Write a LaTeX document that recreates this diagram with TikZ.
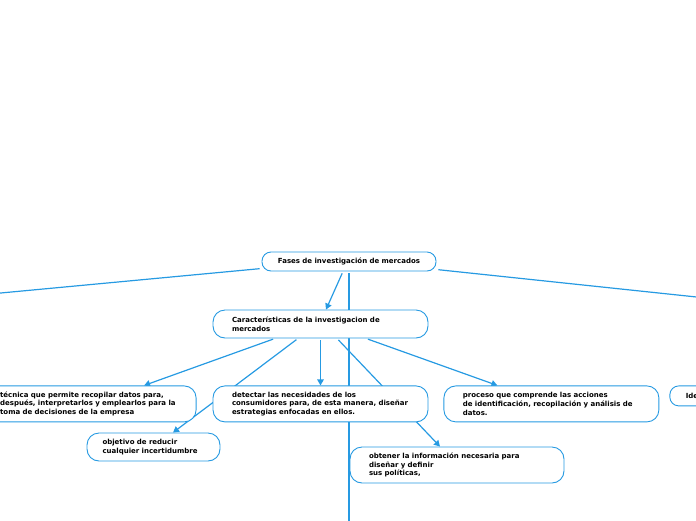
\documentclass[tikz,border=0pt]{standalone}
\usepackage{fontspec}
\setmainfont{DejaVu Sans}
\usetikzlibrary{positioning,arrows.meta,backgrounds}
\definecolor{azul}{RGB}{38,154,226}

\begin{document}
\begin{tikzpicture}[
  x=1pt, y=-1pt,
  font=\fontsize{7}{8.6}\selectfont\bfseries,
  caixa/.style={draw=azul, line width=0.9pt, rounded corners=12pt, fill=white,
                align=left, text width=177pt, inner xsep=19pt, inner ysep=3pt,
                minimum height=28pt},
  raiz/.style={caixa, align=center, text width=146pt, inner xsep=14pt,
               rounded corners=9pt, minimum height=19pt},
  seta/.style={-{Triangle[length=6pt, width=6.5pt]}, draw=azul, line width=1.2pt,
               shorten <=2pt},
  linha/.style={draw=azul, line width=1.2pt, shorten <=2pt},
  node distance=47pt and 15pt
]
  \useasboundingbox (0,0) rectangle (696,520);

  % Raiz
  \node[raiz] (fases) at (349,261.5) {Fases de investigación de mercados};
  \node[caixa] (carac) at (320.5,324) {Características de la investigacion de\\mercados};

  % Fila de caracteristicas
  \node[caixa, minimum height=36pt, below=47pt of carac] (detectar)
       {detectar las necesidades de los\\consumidores para, de esta manera, diseñar\\estrategias enfocadas en ellos.};
  \node[caixa, minimum height=36pt, left=16pt of detectar] (tecnica)
       {técnica que permite recopilar datos para,\\después, interpretarlos y emplearlos para la\\toma de decisiones de la empresa};
  \node[caixa, minimum height=36pt, right=15pt of detectar] (proceso)
       {proceso que comprende las acciones\\de identificación, recopilación y análisis de\\datos.};
  \node[caixa, minimum height=20pt, rounded corners=9pt, text width=60pt, inner xsep=16pt,
        right=10pt of proceso.north east, anchor=north west] (ide) {Ide};

  % Debajo
  \node[caixa, text width=102pt, inner xsep=15.5pt] (objetivo) at (153.5,447)
       {objetivo de reducir\\cualquier incertidumbre};
  \node[caixa, minimum height=36pt, text width=176pt] (obtener) at (457,465)
       {obtener la información necesaria para\\diseñar y definir\\sus políticas,};

  \coordinate (izq) at (-10,294);
  \coordinate (der) at (706,298);
  \coordinate (fondo) at (349,530);

  \begin{scope}[on background layer]
    \draw[linha] ([yshift=-7pt]fases.west) -- (izq);
    \draw[linha] ([yshift=-8pt]fases.east) -- (der);
    \draw[linha] (fases.south) -- (fondo);
    \draw[seta] ([xshift=-6pt]fases.south) -- ([xshift=5.5pt]carac.north);
    \draw[seta] ([xshift=-45.5pt]carac.south) -- ([xshift=55.5pt]tecnica.north);
    \draw[seta] ([xshift=-22.5pt]carac.south) -- ([xshift=19.5pt]objetivo.north);
    \draw[seta] (carac.south) -- (detectar.north);
    \draw[seta] ([xshift=16.5pt]carac.south) -- ([xshift=-17pt]obtener.north);
    \draw[seta] ([xshift=45.5pt]carac.south) -- ([xshift=-54pt]proceso.north);
  \end{scope}
\end{tikzpicture}
\end{document}
